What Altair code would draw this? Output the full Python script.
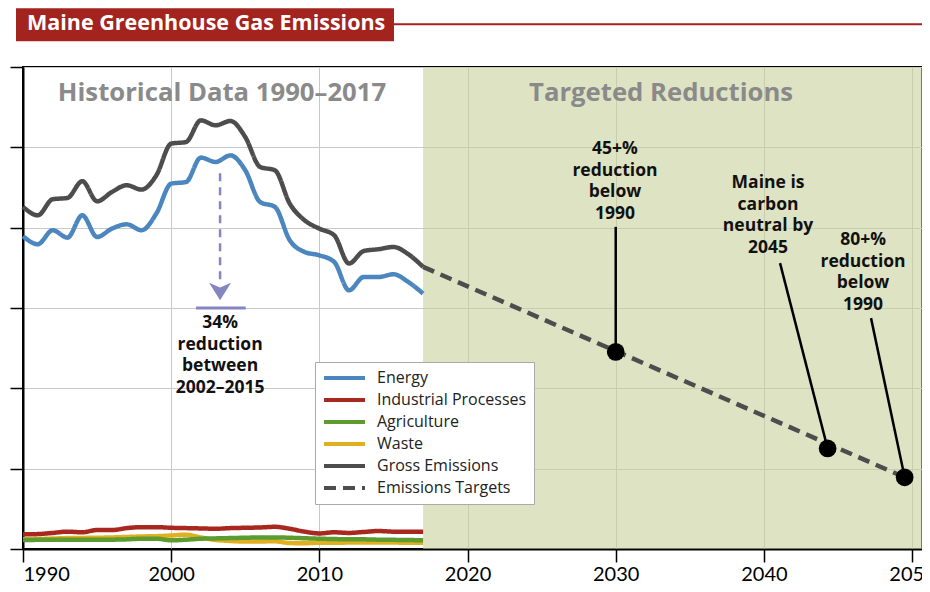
import altair as alt
import pandas as pd

# ---------------- data ----------------
years = list(range(1990, 2018))
energy = [19.47, 18.97, 19.84, 19.38, 20.77, 19.42, 19.94, 20.21, 19.84, 20.88,
          22.74, 22.84, 24.36, 24.09, 24.50, 23.57, 21.60, 21.29, 19.22, 18.49,
          18.28, 17.87, 16.10, 16.93, 16.93, 17.10, 16.62, 15.90]
industrial = [0.91, 0.93, 1.00, 1.08, 1.04, 1.18, 1.18, 1.30, 1.36, 1.36,
              1.32, 1.30, 1.28, 1.26, 1.30, 1.32, 1.34, 1.38, 1.26, 1.08,
              0.97, 1.04, 1.00, 1.06, 1.12, 1.08, 1.08, 1.08]
agriculture = [0.56, 0.57, 0.58, 0.58, 0.58, 0.57, 0.58, 0.60, 0.64, 0.64,
               0.54, 0.58, 0.64, 0.66, 0.68, 0.70, 0.72, 0.72, 0.70, 0.67,
               0.64, 0.62, 0.60, 0.60, 0.58, 0.57, 0.56, 0.54]
waste = [0.60, 0.62, 0.65, 0.68, 0.69, 0.70, 0.72, 0.75, 0.78, 0.80,
         0.84, 0.89, 0.72, 0.56, 0.50, 0.46, 0.47, 0.48, 0.37, 0.36,
         0.39, 0.39, 0.40, 0.41, 0.40, 0.40, 0.39, 0.39]
gross = [21.30, 20.77, 21.77, 21.85, 22.89, 21.64, 22.22, 22.64, 22.37, 23.26,
         25.23, 25.33, 26.68, 26.37, 26.64, 25.64, 23.78, 23.57, 21.50, 20.46,
         19.94, 19.53, 17.77, 18.55, 18.66, 18.80, 18.35, 17.56]

target_years = [2017, 2049.5]
target_values = [17.56, 4.46]

milestone_years = [2030, 2044.3, 2049.5]
milestone_values = [12.27, 6.26, 4.46]
milestone_labels = ["45+%\nreduction\nbelow\n1990",
                    "Maine is\ncarbon\nneutral by\n2045",
                    "80+%\nreduction\nbelow\n1990"]

series_names = ["Energy", "Industrial Processes", "Agriculture", "Waste",
                "Gross Emissions", "Emissions Targets"]
series_colors = ["#4b86be", "#a8271f", "#5b9b30", "#e1b021", "#4d4d4d", "#4d4d4d"]
series_dash = [[1, 0], [1, 0], [1, 0], [1, 0], [1, 0], [12, 7]]

x_ticks = [1990, 2000, 2010, 2020, 2030, 2040, 2050]
y_ticks = [0, 5, 10, 15, 20, 25, 30]
x_domain = [1990, 2050.67]
y_domain = [0, 30]
shade_span = [2017, 2050.67]

# ---------------- tables ----------------
rows = []
for name, vals in [("Waste", waste), ("Agriculture", agriculture),
                   ("Industrial Processes", industrial), ("Energy", energy),
                   ("Gross Emissions", gross)]:
    for yr, v in zip(years, vals):
        rows.append({"x": yr, "y": v, "series": name})
for yr, v in zip(target_years, target_values):
    rows.append({"x": yr, "y": v, "series": "Emissions Targets"})
lines_df = pd.DataFrame(rows)

ms_df = pd.DataFrame({"x": milestone_years, "y": milestone_values})

leader_df = pd.DataFrame({
    "x": [2030, 2041.09, 2047.23],
    "y": [20.05, 17.79, 14.37],
    "x2": milestone_years,
    "y2": milestone_values,
})
# y = position of the first text line
label_df = pd.DataFrame({
    "x": [2029.95, 2040.28, 2046.69],
    "y": [24.88, 22.76, 19.22],
    "t": milestone_labels,
})
shade_df = pd.DataFrame({"x": [shade_span[0]], "x2": [shade_span[1]],
                         "y": [y_domain[0]], "y2": [y_domain[1]]})
head_df = pd.DataFrame({"x": [2003.43, 2033.06], "y": [28.36, 28.36],
                        "t": ["Historical Data 1990\u20132017", "Targeted Reductions"]})
drop_df = pd.DataFrame({"x": [2003.3], "y": [23.38], "y2": [16.6]})
head_pt_df = pd.DataFrame({"x": [2003.3], "y": [16.03]})
bar_df = pd.DataFrame({"x": [2001.68], "x2": [2005.03], "y": [15.0]})
note_df = pd.DataFrame({"x": [2003.3], "y": [14.05],
                        "t": ["34%\nreduction\nbetween\n2002\u20132015"]})
one = pd.DataFrame({"k": [0]})

# ---------------- encodings ----------------
xs = alt.Scale(domain=x_domain, nice=False, zero=False)
ys = alt.Scale(domain=y_domain, nice=False, zero=True)
X = alt.X("x:Q", scale=xs, title=None,
          axis=alt.Axis(values=x_ticks, format="d", tickSize=13, labelPadding=2,
                        grid=True))
Y = alt.Y("y:Q", scale=ys, title=None,
          axis=alt.Axis(values=y_ticks, labels=False, tickSize=13, grid=True))
X2 = alt.X2("x2:Q")
Y2 = alt.Y2("y2:Q")

FONT = "Open Sans"

legend = alt.Legend(title=None, orient="none", legendX=292, legendY=295,
                    symbolType="stroke", symbolSize=1681, symbolStrokeWidth=4,
                    clipHeight=18, rowPadding=4, labelFont=FONT,
                    labelFontSize=16, labelColor="#222222", labelOffset=10,
                    padding=7, fillColor="white", strokeColor="#aaaaaa",
                    labelLimit=300)

shade = alt.Chart(shade_df).mark_rect(color="rgb(200,208,155)", opacity=0.6).encode(
    x=X, x2=X2, y=Y, y2=Y2)

heads = alt.Chart(head_df).mark_text(font=FONT, fontSize=25.7, fontWeight="bold",
                                     color="#8a8a8a", baseline="middle").encode(
    x=X, y=Y, text="t:N")

lines = alt.Chart(lines_df).mark_line(interpolate="monotone", strokeWidth=4.5).encode(
    x=X, y=Y,
    color=alt.Color("series:N", scale=alt.Scale(domain=series_names, range=series_colors),
                    legend=legend),
    strokeDash=alt.StrokeDash("series:N",
                              scale=alt.Scale(domain=series_names, range=series_dash),
                              legend=legend),
    order=alt.Order("series:N"),
)

drop = alt.Chart(drop_df).mark_rule(color="#8585c2", strokeWidth=2.5,
                                    strokeDash=[8, 6]).encode(x=X, y=Y, y2=Y2)
drop_head = alt.Chart(head_pt_df).mark_point(
    shape="M-1,-0.8L0,-0.35L1,-0.8L0,0.8Z", size=484, filled=True, opacity=1,
    color="#8585c2").encode(x=X, y=Y)
drop_bar = alt.Chart(bar_df).mark_rule(color="#8585c2", strokeWidth=3).encode(
    x=X, x2=X2, y=Y)
note = alt.Chart(note_df).mark_text(font=FONT, fontSize=17.5, fontWeight="bold",
                                    color="#111111", lineBreak="\n", lineHeight=21.5,
                                    baseline="middle").encode(x=X, y=Y, text="t:N")

leaders = alt.Chart(leader_df).mark_rule(color="black", strokeWidth=2.5).encode(
    x=X, y=Y, x2=X2, y2=Y2)
points = alt.Chart(ms_df).mark_circle(color="black", size=314, opacity=1).encode(x=X, y=Y)
labels = alt.Chart(label_df).mark_text(font=FONT, fontSize=17.5, fontWeight="bold",
                                       color="#111111", lineBreak="\n", lineHeight=21.5,
                                       baseline="middle").encode(x=X, y=Y, text="t:N")

banner = alt.Chart(one).mark_rect(color="#a3231f").encode(
    x=alt.value(-7), x2=alt.value(371), y=alt.value(-58.7), y2=alt.value(-25.7))
banner_line = alt.Chart(one).mark_rule(color="#a3231f", strokeWidth=2).encode(
    x=alt.value(371), x2=alt.value(902), y=alt.value(-42.7))
banner_text = alt.Chart(one).mark_text(
    text="Maine Greenhouse Gas Emissions", font=FONT, fontSize=21.5,
    fontWeight="bold", color="white", align="left", baseline="middle").encode(
    x=alt.value(4), y=alt.value(-43))

chart = alt.layer(
    shade, heads, lines, drop, drop_head, drop_bar, note, leaders, points, labels,
    banner, banner_line, banner_text
).properties(
    width=899, height=482,
    autosize=alt.AutoSizeParams(type="none"),
    padding={"left": 15, "top": 59, "right": 0, "bottom": 35},
).configure_view(
    stroke="black", strokeWidth=2
).configure_axis(
    gridColor="#c8c8c8", gridWidth=1, domainColor="black", domainWidth=2,
    tickColor="black", tickWidth=1.5, labelFont="Lato", labelFontSize=20,
    labelColor="black"
)

chart.save("out.html", embed_options={"renderer": "svg", "actions": False})
